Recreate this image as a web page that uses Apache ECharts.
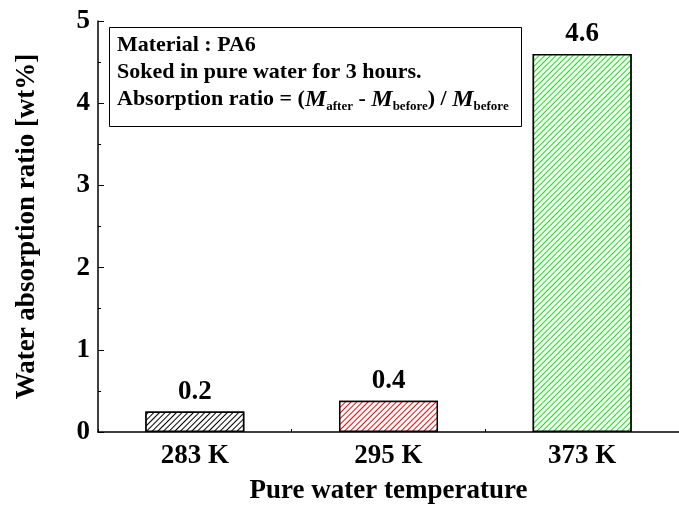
<!DOCTYPE html>
<html>
<head>
<meta charset="utf-8">
<script src="https://cdn.jsdelivr.net/npm/echarts@6/dist/echarts.min.js"></script>
<style>
html,body{margin:0;padding:0;background:#fff;}
#chart{width:679px;height:513px;}
</style>
</head>
<body>
<div id="chart"></div>
<script>
// Data
const categories = ['283 K', '295 K', '373 K'];
const absorption = [0.25, 0.38, 4.6];
const valueLabels = ['0.2', '0.4', '4.6'];
const hatchColors = ['#000000', '#ff0000', '#00ee00'];
const yTicks = [0, 1, 2, 3, 4, 5];

const FONT = '"Liberation Serif", "Times New Roman", serif';

const chart = echarts.init(document.getElementById('chart'), null, {renderer: 'canvas'});

const series = categories.map((cat, i) => ({
  type: 'bar',
  name: cat,
  barWidth: 99,
  barGap: '-100%',
  data: absorption.map((v, j) => (j === i ? v : null)),
  itemStyle: {
    color: '#ffffff',
    borderColor: '#000',
    borderWidth: 1.5,
    decal: {
      symbol: 'rect',
      symbolSize: 1,
      color: hatchColors[i],
      backgroundColor: '#ffffff',
      dashArrayX: [1, 0],
      dashArrayY: [1, 3],
      rotation: -Math.PI / 4
    }
  },
  label: {
    show: true,
    position: 'top',
    distance: 6,
    formatter: valueLabels[i],
    color: '#000',
    fontFamily: FONT,
    fontWeight: 'bold',
    fontSize: 27
  }
}));

const option = {
  animation: false,
  backgroundColor: '#fff',
  grid: {left: 98, top: 21, bottom: 81, right: -7, containLabel: false},
  xAxis: {
    type: 'category',
    data: categories,
    boundaryGap: true,
    axisLine: {show: true, lineStyle: {color: '#000', width: 1.5}},
    axisTick: {show: true, inside: true, length: 3, lineStyle: {color: '#000', width: 1}},
    axisLabel: {color: '#000', fontFamily: FONT, fontWeight: 'bold', fontSize: 27, margin: 11},
    name: 'Pure water temperature',
    nameLocation: 'middle',
    nameGap: 46,
    nameTextStyle: {color: '#000', fontFamily: FONT, fontWeight: 'bold', fontSize: 27},
    splitLine: {show: false}
  },
  yAxis: {
    type: 'value',
    min: yTicks[0],
    max: yTicks[yTicks.length - 1],
    interval: 1,
    axisLine: {show: true, lineStyle: {color: '#000', width: 1.5}},
    axisTick: {show: true, inside: true, length: 6, lineStyle: {color: '#000', width: 1}},
    minorTick: {show: true, splitNumber: 2, length: 3, lineStyle: {color: '#000', width: 1}},
    axisLabel: {color: '#000', fontFamily: FONT, fontWeight: 'bold', fontSize: 27, margin: 8},
    splitLine: {show: false},
    name: 'Water absorption ratio [wt%]',
    nameLocation: 'middle',
    nameGap: 57,
    nameTextStyle: {color: '#000', fontFamily: FONT, fontWeight: 'bold', fontSize: 27}
  },
  series: series,
  graphic: [
    {
      type: 'rect',
      shape: {x: 109.5, y: 27.5, width: 412, height: 99},
      style: {fill: '#fff', stroke: '#000', lineWidth: 1},
      z: 100
    },
    {
      type: 'text',
      left: 117,
      top: 32,
      z: 101,
      style: {
        text: 'Material : PA6\nSoked in pure water for 3 hours.\n{n|Absorption ratio = (}{i|M}{s|after}{n| - }{i|M}{s|before}{n|) / }{i|M}{s|before}',
        fill: '#000',
        font: 'bold 22px ' + FONT,
        lineHeight: 27,
        rich: {
          n: {fontFamily: FONT, fontWeight: 'bold', fontSize: 22, lineHeight: 27},
          i: {fontFamily: FONT, fontWeight: 'bold', fontStyle: 'italic', fontSize: 24, lineHeight: 27},
          s: {fontFamily: FONT, fontWeight: 'bold', fontSize: 13, lineHeight: 27, padding: [15, 0, 0, 0]}
        }
      }
    }
  ]
};
chart.setOption(option);
</script>
</body>
</html>
